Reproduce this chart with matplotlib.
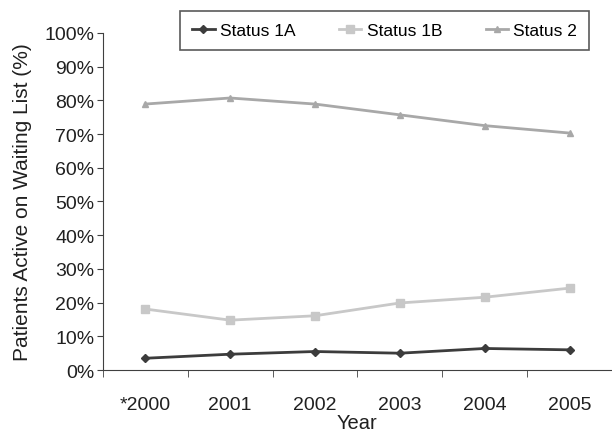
import numpy as np
import matplotlib.pyplot as plt
from matplotlib.ticker import PercentFormatter

plt.rcParams['font.family'] = ['Liberation Sans', 'DejaVu Sans']

years = ["*2000", "2001", "2002", "2003", "2004", "2005"]
status_1a = [3.5, 4.7, 5.5, 5.0, 6.4, 6.0]
status_1b = [18.1, 14.8, 16.1, 19.9, 21.6, 24.3]
status_2 = [78.9, 80.7, 78.9, 75.7, 72.5, 70.3]

x = np.arange(len(years))

fig = plt.figure(figsize=(6.12, 4.35), dpi=100)
ax = fig.add_axes([0.168, 0.147, 0.832, 0.775])

ax.plot(x, status_1a, color='#3c3c3c', marker='D', markersize=4, lw=2, label='Status 1A')
ax.plot(x, status_1b, color='#c8c8c8', marker='s', markersize=6, lw=2, label='Status 1B')
ax.plot(x, status_2, color='#a8a8a8', marker='^', markersize=5, lw=2, label='Status 2')

ax.set_xlim(-0.5, 5.5)
ax.set_ylim(0, 100)
ax.set_yticks(np.arange(0, 101, 10))
ax.yaxis.set_major_formatter(PercentFormatter(decimals=0))
ax.set_xticks(x)
ax.set_xticklabels(years)
ax.set_xticks(np.arange(-0.5, 5.6, 1), minor=True)
ax.tick_params(axis='x', which='major', length=0, pad=19, labelsize=14, labelcolor='#202020')
ax.tick_params(axis='x', which='minor', length=5, color='#404040')
ax.tick_params(axis='y', length=4, pad=2, labelsize=14, color='#404040', labelcolor='#202020')

for s in ['top', 'right']:
    ax.spines[s].set_visible(False)
for s in ['left', 'bottom']:
    ax.spines[s].set_color('#404040')

ax.set_xlabel("Year", fontsize=14.5, labelpad=0, color='#202020')
ax.set_ylabel("Patients Active on Waiting List (%)", fontsize=15, labelpad=9, color='#202020')

leg = fig.legend(loc='upper left', bbox_to_anchor=(0.294, 0.973), ncol=3,
                 fontsize=12.5, frameon=True, fancybox=False, edgecolor='#303030',
                 handlelength=1.3, handletextpad=0.3, columnspacing=2.5,
                 borderpad=0.7, borderaxespad=0, shadow=False)
leg.get_frame().set_linewidth(1.2)

plt.savefig("out.png", dpi=100)
